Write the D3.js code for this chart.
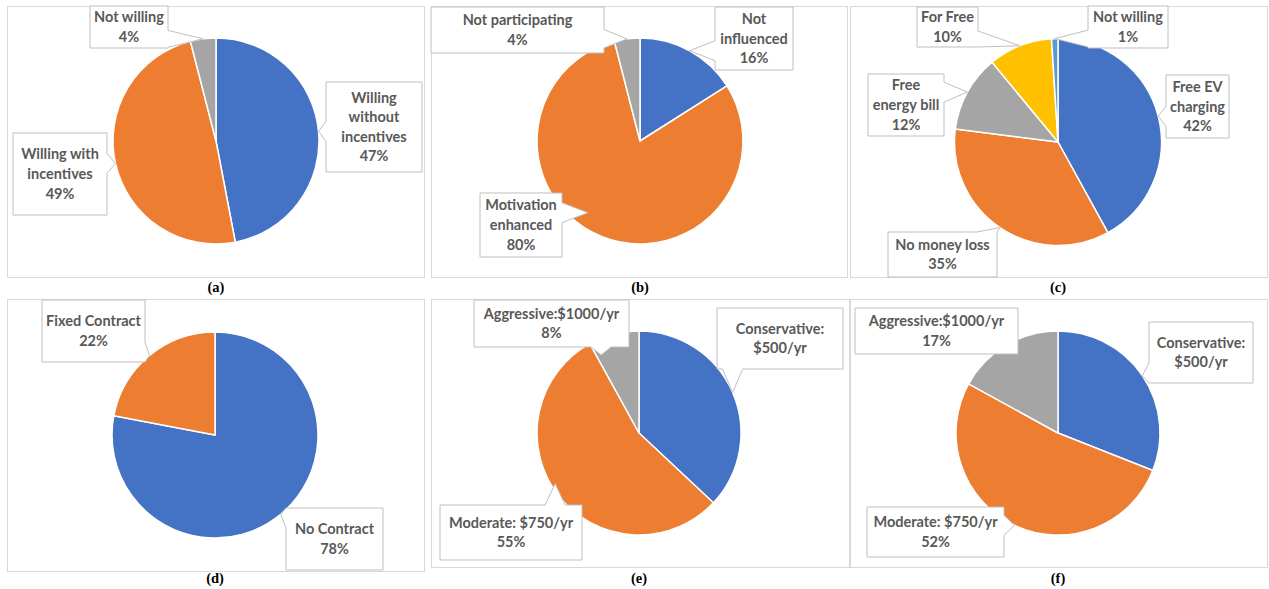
<!DOCTYPE html>
<html>
<head>
<meta charset="utf-8">
<script src="https://cdn.jsdelivr.net/npm/d3@7"></script>
<style>
  body { margin: 0; background: #fff; }
  svg { display: block; }
</style>
</head>
<body>
<div id="chart"></div>
<script>
// data, one set of arrays per panel
const colors = ["#4472C4", "#ED7D31", "#A5A5A5", "#FFC000", "#5B9BD5"];

const labelsA = ["Willing\nwithout\nincentives", "Willing with\nincentives", "Not willing"];
const valuesA = [47, 49, 4];

const labelsB = ["Not\ninfluenced", "Motivation\nenhanced", "Not participating"];
const valuesB = [16, 80, 4];

const labelsC = ["Free EV\ncharging", "No money loss", "Free\nenergy bill", "For Free", "Not willing"];
const valuesC = [42, 35, 12, 10, 1];

const labelsD = ["No Contract", "Fixed Contract"];
const valuesD = [78, 22];

const labelsE = ["Conservative:\n$500/yr", "Moderate: $750/yr", "Aggressive:$1000/yr"];
const valuesE = [37, 55, 8];
const showPctE = [false, true, true];

const labelsF = ["Conservative:\n$500/yr", "Moderate: $750/yr", "Aggressive:$1000/yr"];
const valuesF = [31, 52, 17];
const showPctF = [false, true, true];

const captions = ["(a)", "(b)", "(c)", "(d)", "(e)", "(f)"];

// layout: frames, pie centres and callout boxes
const panels = [
  { labels: labelsA, values: valuesA, frame: [7, 6, 417, 271], cx: 216, cy: 141, r: 103, capY: 292,
    boxes: [
      { b: [326, 82, 96, 90], at: 0.5, k: 1 },
      { b: [13, 133, 94, 82], at: 0.5, k: 1 },
      { b: [90, 6, 78, 42], at: 0.5, k: 1 }
    ] },
  { labels: labelsB, values: valuesB, frame: [431, 6, 416, 271], cx: 640, cy: 141, r: 103, capY: 292,
    boxes: [
      { b: [715, 7, 78, 63], at: 0.5, k: 1 },
      { b: [480, 193, 82, 64], at: 0.55, k: 0.86 },
      { b: [431, 7, 173, 46], at: 0.5, k: 1 }
    ] },
  { labels: labelsC, values: valuesC, frame: [850, 6, 417, 271], cx: 1058, cy: 142, r: 103.5, capY: 292,
    boxes: [
      { b: [1166, 75, 63, 63], at: 0.5, k: 1 },
      { b: [888, 232, 109, 45], at: 0.5, k: 1 },
      { b: [868, 74, 76, 62], at: 0.5, k: 1 },
      { b: [917, 7, 61, 40], at: 0.5, k: 1 },
      { b: [1088, 6, 80, 42], at: 0.5, k: 1 }
    ] },
  { labels: labelsD, values: valuesD, frame: [7, 299, 417, 272], cx: 215, cy: 435, r: 103, capY: 583,
    boxes: [
      { b: [286, 508, 97, 62], at: 0.5, k: 1 },
      { b: [42, 300, 103, 62], at: 0.5, k: 1 }
    ] },
  { labels: labelsE, values: valuesE, showPct: showPctE, frame: [431, 299, 418, 268], cx: 639, cy: 433, r: 102, capY: 583,
    boxes: [
      { b: [717, 308, 126, 61], at: 0.5, k: 1 },
      { b: [440, 505, 142, 55], at: 0.534, k: 0.96 },
      { b: [474, 300, 155, 47], at: 0.1, k: 0.85 }
    ] },
  { labels: labelsF, values: valuesF, showPct: showPctF, frame: [850, 299, 417, 268], cx: 1058, cy: 433, r: 102, capY: 583,
    boxes: [
      { b: [1149, 322, 104, 61], at: 0.5, k: 1 },
      { b: [867, 507, 137, 50], at: 0.5, k: 1 },
      { b: [855, 308, 163, 46], at: 0.5, k: 1 }
    ] }
];

const width = 1269, height = 589;
const lineH = 19.6;

const svg = d3.select("#chart").append("svg")
  .attr("width", width)
  .attr("height", height);

// rectangle with a wedge pointing at the tip (like an Office callout)
function calloutPath(box, tip) {
  const [x, y, w, h] = box;
  const inside = tip[0] >= x && tip[0] <= x + w && tip[1] >= y && tip[1] <= y + h;
  const d = {
    left: x - tip[0], right: tip[0] - (x + w),
    top: y - tip[1], bottom: tip[1] - (y + h)
  };
  let side = null;
  if (!inside) side = Object.keys(d).reduce((a, b) => d[a] >= d[b] ? a : b);
  const hwx = Math.min(10, w * 0.2), hwy = Math.min(10, h * 0.2);
  const cxw = Math.max(x + hwx, Math.min(x + w - hwx, tip[0]));
  const cyw = Math.max(y + hwy, Math.min(y + h - hwy, tip[1]));
  const p = d3.path();
  p.moveTo(x, y);
  if (side === "top") { p.lineTo(cxw - hwx, y); p.lineTo(tip[0], tip[1]); p.lineTo(cxw + hwx, y); }
  p.lineTo(x + w, y);
  if (side === "right") { p.lineTo(x + w, cyw - hwy); p.lineTo(tip[0], tip[1]); p.lineTo(x + w, cyw + hwy); }
  p.lineTo(x + w, y + h);
  if (side === "bottom") { p.lineTo(cxw + hwx, y + h); p.lineTo(tip[0], tip[1]); p.lineTo(cxw - hwx, y + h); }
  p.lineTo(x, y + h);
  if (side === "left") { p.lineTo(x, cyw + hwy); p.lineTo(tip[0], tip[1]); p.lineTo(x, cyw - hwy); }
  p.closePath();
  return p.toString();
}

const pie = d3.pie().sort(null).value(d => d);

panels.forEach((pn, pi) => {
  const g = svg.append("g");
  const [fx, fy, fw, fh] = pn.frame;

  g.append("rect")
    .attr("x", fx + 0.5).attr("y", fy + 0.5)
    .attr("width", fw).attr("height", fh)
    .attr("fill", "#fff")
    .attr("stroke", "#d9d9d9")
    .attr("stroke-width", 1);

  const arcs = pie(pn.values);
  const arc = d3.arc().innerRadius(0).outerRadius(pn.r);

  g.append("g")
    .attr("transform", `translate(${pn.cx},${pn.cy})`)
    .selectAll("path")
    .data(arcs)
    .enter()
    .append("path")
    .attr("d", arc)
    .attr("fill", (d, i) => colors[i])
    .attr("stroke", "#fff")
    .attr("stroke-width", 1.5)
    .attr("stroke-linejoin", "round");

  arcs.forEach((a, i) => {
    const bx = pn.boxes[i];
    const ang = a.startAngle + (a.endAngle - a.startAngle) * bx.at;
    const rr = pn.r * bx.k;
    const tip = [pn.cx + rr * Math.sin(ang), pn.cy - rr * Math.cos(ang)];

    g.append("path")
      .attr("d", calloutPath(bx.b, tip))
      .attr("fill", "#fff")
      .attr("stroke", "#bfbfbf")
      .attr("stroke-width", 1);

    const lines = pn.labels[i].split("\n");
    if (!pn.showPct || pn.showPct[i]) lines.push(pn.values[i] + "%");
    const tx = bx.b[0] + bx.b[2] / 2;
    const tcy = bx.b[1] + bx.b[3] / 2;
    const t = g.append("text")
      .attr("text-anchor", "middle")
      .style("font-family", "Lato, 'Open Sans', sans-serif")
      .style("font-weight", 700)
      .style("font-size", "14.5px")
      .style("fill", "#595959");
    lines.forEach((ln, li) => {
      t.append("tspan")
        .attr("x", tx)
        .attr("y", tcy + (li - (lines.length - 1) / 2) * lineH + 5)
        .text(ln);
    });
  });

  svg.append("text")
    .attr("x", pn.cx)
    .attr("y", pn.capY)
    .attr("text-anchor", "middle")
    .style("font-family", "'Liberation Serif', 'Times New Roman', serif")
    .style("font-weight", 700)
    .style("font-size", "14.5px")
    .style("fill", "#000")
    .text(captions[pi]);
});
</script>
</body>
</html>
